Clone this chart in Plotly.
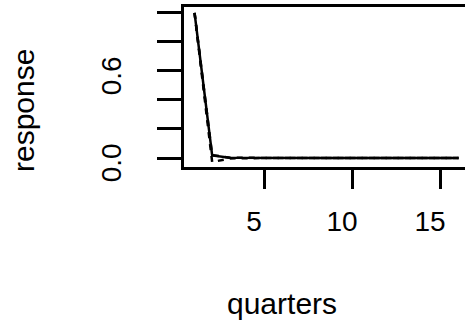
import plotly.graph_objects as go

quarters = list(range(1, 17))
response = [1.0, 0.018, 0.001, 0, 0, 0, 0, 0, 0, 0, 0, 0, 0, 0, 0, 0]
lower = [1.0, -0.028, -0.003, 0, 0, 0, 0, 0, 0, 0, 0, 0, 0, 0, 0, 0]
upper = [1.0, 0.02, 0.002, 0, 0, 0, 0, 0, 0, 0, 0, 0, 0, 0, 0, 0]

x_tickvals = [5, 10, 15]
x_ticktext = ["5", "10", "15"]
y_tickvals = [0.0, 0.2, 0.4, 0.6, 0.8, 1.0]
y_ticktext = ["0.0", "", "", "0.6", "", ""]

FONT = "Liberation Sans, Arial, Helvetica, sans-serif"

fig = go.Figure()
fig.add_trace(go.Scatter(x=quarters, y=response, mode="lines",
                         line=dict(color="black", width=2.5)))
fig.add_trace(go.Scatter(x=quarters, y=lower, mode="lines",
                         line=dict(color="black", width=2.5, dash="6px,6px")))
fig.add_trace(go.Scatter(x=quarters, y=upper, mode="lines",
                         line=dict(color="black", width=2.5, dash="6px,6px")))

fig.update_layout(
    width=465, height=322,
    margin=dict(l=184, r=0, t=7, b=155),
    paper_bgcolor="white", plot_bgcolor="white",
    showlegend=False,
    font=dict(family=FONT, size=28, color="black"),
    xaxis=dict(range=[0.4, 0.4 + 281 / 17.6], tickvals=x_tickvals, ticktext=x_ticktext,
               showgrid=False, zeroline=False, showline=True, mirror=True,
               linecolor="black", linewidth=2.5, ticks="outside", ticklen=19,
               tickwidth=2.5, tickcolor="black", ticklabelshift=-11,
               ticklabelstandoff=9),
    yaxis=dict(range=[-0.062, 1.041], tickvals=y_tickvals, ticktext=y_ticktext,
               showgrid=False, zeroline=False, showline=True, mirror=False,
               linecolor="black", linewidth=2.5, ticks="outside", ticklen=24,
               tickwidth=2.5, tickcolor="black", tickangle=-90,
               ticklabelshift=9, ticklabelstandoff=25),
    annotations=[
        dict(text="quarters", xref="paper", yref="paper",
             x=(282 - 184) / 281, y=-(303 - 167) / 160,
             xanchor="center", yanchor="middle", showarrow=False,
             font=dict(size=30)),
        dict(text="response", xref="paper", yref="paper",
             x=(23 - 184) / 281, y=(167 - 111) / 160, textangle=-90,
             xanchor="center", yanchor="middle", showarrow=False,
             font=dict(size=30)),
    ],
)

fig.write_html("out.html")
